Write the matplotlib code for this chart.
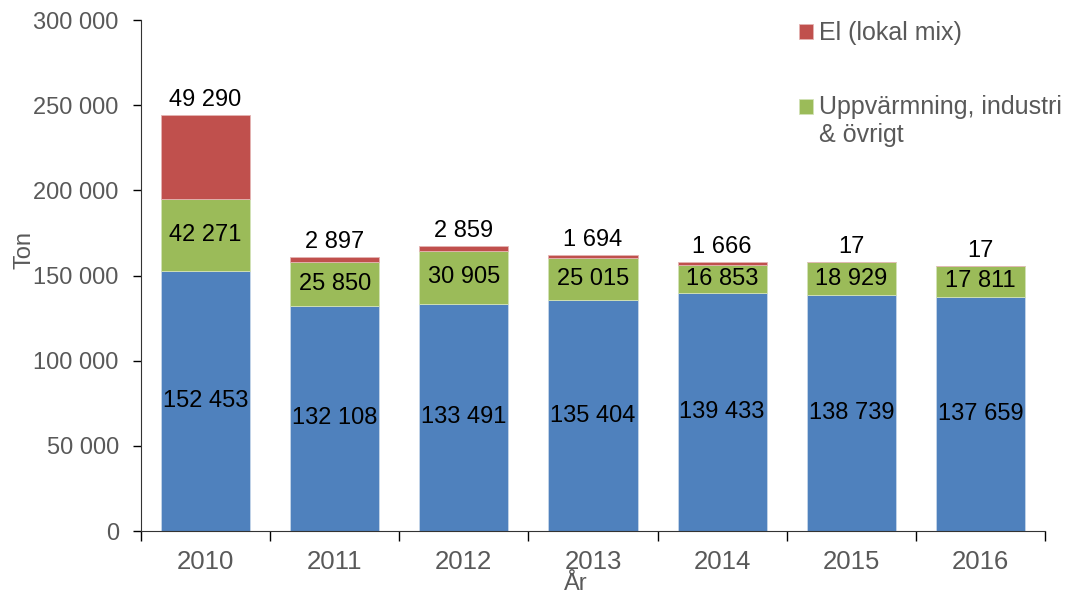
import matplotlib
matplotlib.use("Agg")
import matplotlib.pyplot as plt
import numpy as np
from matplotlib.ticker import FuncFormatter, FixedLocator

# data
years = ["2010", "2011", "2012", "2013", "2014", "2015", "2016"]
transport = [152453, 132108, 133491, 135404, 139433, 138739, 137659]
heating = [42271, 25850, 30905, 25015, 16853, 18929, 17811]
electricity = [49290, 2897, 2859, 1694, 1666, 17, 17]

BLUE = "#4F81BD"
GREEN = "#9BBB59"
RED = "#C0504D"
GREY = "#595959"


def fmt_num(v, pos=None):
    return f"{int(v):,}".replace(",", " ")


def main():
    plt.rcParams["font.family"] = ["Liberation Sans", "DejaVu Sans"]
    fig = plt.figure(figsize=(10.81, 5.95), dpi=100)
    ax = fig.add_axes([141 / 1081, 1 - 531 / 595, 904 / 1081, 511 / 595])

    x = np.arange(len(years))
    w = 0.69
    b1 = ax.bar(x, transport, w, color=BLUE, edgecolor="#c6d6ea", linewidth=0.6)
    bottom2 = np.array(transport)
    b2 = ax.bar(x, heating, w, bottom=bottom2, color=GREEN, edgecolor="#d3e2b8", linewidth=0.6,
                label="Uppvärmning, industri\n& övrigt")
    bottom3 = bottom2 + np.array(heating)
    b3 = ax.bar(x, electricity, w, bottom=bottom3, color=RED, edgecolor="#e4b4b3", linewidth=0.6,
                label="El (lokal mix)")

    ax.bar_label(b1, labels=[fmt_num(v) for v in transport], label_type="center", fontsize=17)
    ax.bar_label(b2, labels=[fmt_num(v) for v in heating], label_type="center", fontsize=17)
    ax.bar_label(b3, labels=[fmt_num(v) for v in electricity], label_type="edge", padding=3, fontsize=17)

    ax.set_xlim(-0.5, len(years) - 0.5)
    ax.set_ylim(0, 300000)
    ax.set_yticks(np.arange(0, 300001, 50000))
    ax.yaxis.set_major_formatter(FuncFormatter(fmt_num))

    # ticks at category boundaries, labels at centres
    ax.xaxis.set_major_locator(FixedLocator(np.arange(-0.5, len(years), 1.0)))
    ax.set_xticklabels([])
    ax.set_xticks(x, minor=True)
    ax.set_xticklabels(years, minor=True)
    ax.tick_params(axis="x", which="major", length=7, width=1, direction="out")
    ax.tick_params(axis="x", which="minor", length=0, pad=14, labelsize=18.5, labelcolor=GREY)
    ax.tick_params(axis="y", length=6, width=1, pad=10, labelsize=17, labelcolor=GREY)

    for s in ["top", "right"]:
        ax.spines[s].set_visible(False)
    for s in ["left", "bottom"]:
        ax.spines[s].set_color("#333333")

    ax.set_ylabel("Ton", fontsize=17, color=GREY)
    ax.yaxis.set_label_coords(-0.117, 0.55)
    ax.set_xlabel("År", fontsize=17, color=GREY)
    ax.xaxis.set_label_coords(0.481, -0.082)

    leg = fig.legend(handles=[b3, b2], loc="upper left", bbox_to_anchor=(799 / 1081, 1 - 21 / 595),
                     frameon=False, fontsize=18, labelcolor=GREY, handlelength=0.55,
                     handleheight=0.55, handletextpad=0.25, labelspacing=2.0,
                     borderpad=0, borderaxespad=0)
    # put the green square level with the first line of its label
    green_box = leg.legend_handles[1]
    green_box.set_y(green_box.get_y() + 0.6 * 18)

    fig.savefig("out.png", dpi=100)


if __name__ == "__main__":
    main()
